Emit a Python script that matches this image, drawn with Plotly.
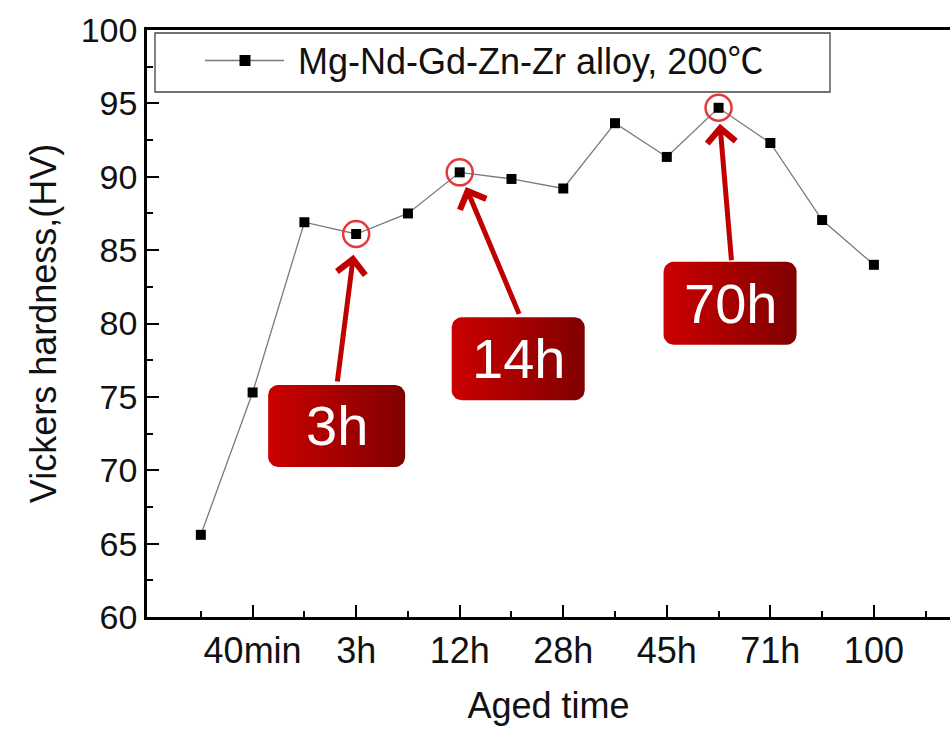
import numpy as np
import plotly.graph_objects as go

# ---------------- data ----------------
aged_idx = list(range(1, 15))
hardness = [65.6, 75.3, 86.9, 86.1, 87.5, 90.3, 89.85, 89.2, 93.65, 91.35, 94.7, 92.3, 87.05, 84.0]
tick_pos = [2, 4, 6, 8, 10, 12, 14]
tick_labels = ["40min", "3h", "12h", "28h", "45h", "71h", "100"]
minor_pos = [1, 3, 5, 7, 9, 11, 13, 15]
callout_idx = [4, 6, 11]
callout_text = ["3h", "14h", "70h"]
series_name = "Mg-Nd-Gd-Zn-Zr alloy, 200℃"

# ---------------- layout geometry ----------------
W, H = 950, 729
ML, MR, MT, MB = 147, 0, 30, 112
XR = [-0.04, 15.47]
YR = [60, 100]
PW = W - ML - MR
PH = H - MT - MB
FONT = "Liberation Sans, Arial, sans-serif"


def x2px(x):
    return ML + (x - XR[0]) / (XR[1] - XR[0]) * PW


def y2px(y):
    return MT + PH - (y - YR[0]) / (YR[1] - YR[0]) * PH


def px2x(p):
    return XR[0] + (p - ML) / PW * (XR[1] - XR[0])


def px2y(p):
    return YR[0] + (MT + PH - p) / PH * (YR[1] - YR[0])


def px2paper_x(p):
    return (p - ML) / PW


def px2paper_y(p):
    return (MT + PH - p) / PH


# callout styling (pixel offsets relative to the highlighted point)
box_offsets = [(-19.5, 192), (58.5, 186.5), (11.5, 195.5)]
box_sizes = [(137, 82), (133, 83), (133, 83)]
arrow_tails = [(-19, 149), (60, 143), (13, 154)]
arrow_standoff = [21, 16, 16]
corner_r = 10

fig = go.Figure()

# main series
fig.add_trace(go.Scatter(
    x=aged_idx, y=hardness, mode="lines+markers", name=series_name,
    line=dict(color="#7a7a7a", width=1.3),
    marker=dict(symbol="square", size=10, color="black"),
    showlegend=False, hoverinfo="x+y",
))

# callout boxes (rounded, gradient)
annotations = []
for k, xi in enumerate(callout_idx):
    yv = hardness[aged_idx.index(xi)]
    cx = x2px(xi) + box_offsets[k][0]
    cy = y2px(yv) + box_offsets[k][1]
    w, h = box_sizes[k]
    x0, x1 = cx - w / 2, cx + w / 2
    y0, y1 = cy - h / 2, cy + h / 2
    pts = []
    corners = [(x1 - corner_r, y0 + corner_r, -90, 0),
               (x1 - corner_r, y1 - corner_r, 0, 90),
               (x0 + corner_r, y1 - corner_r, 90, 180),
               (x0 + corner_r, y0 + corner_r, 180, 270)]
    for (ccx, ccy, a0, a1) in corners:
        for a in np.linspace(np.radians(a0), np.radians(a1), 8):
            pts.append((ccx + corner_r * np.cos(a), ccy + corner_r * np.sin(a)))
    pts.append(pts[0])
    fig.add_trace(go.Scatter(
        x=[px2x(p[0]) for p in pts], y=[px2y(p[1]) for p in pts],
        mode="lines", fill="toself", line=dict(width=0, color="#a00000"),
        fillgradient=dict(type="horizontal",
                          colorscale=[[0, "#cc0000"], [1, "#800000"]]),
        hoverinfo="skip", showlegend=False,
    ))
    annotations.append(dict(
        x=xi, y=yv, xref="x", yref="y", text=callout_text[k],
        showarrow=False, xshift=box_offsets[k][0], yshift=-box_offsets[k][1],
        font=dict(family=FONT, size=56, color="white"),
    ))
    annotations.append(dict(
        x=xi, y=yv, xref="x", yref="y", text="", showarrow=True,
        ax=arrow_tails[k][0], ay=arrow_tails[k][1],
        arrowhead=4, arrowsize=1.1, arrowwidth=5, arrowcolor="#c00000",
        standoff=arrow_standoff[k],
    ))

# highlight circles
fig.add_trace(go.Scatter(
    x=callout_idx, y=[hardness[aged_idx.index(i)] for i in callout_idx],
    mode="markers",
    marker=dict(symbol="circle-open", size=26, color="#e23a3a",
                line=dict(width=2.5, color="#e23a3a")),
    hoverinfo="skip", showlegend=False,
))

# legend (drawn manually to match the original frame)
leg_x0, leg_x1, leg_y0, leg_y1 = 155, 830, 33, 92
leg_cy = (leg_y0 + leg_y1) / 2
shapes = [
    dict(type="rect", xref="paper", yref="paper",
         x0=px2paper_x(leg_x0), x1=px2paper_x(leg_x1),
         y0=px2paper_y(leg_y1), y1=px2paper_y(leg_y0),
         line=dict(color="#444444", width=1.3), fillcolor="white", layer="below"),
    dict(type="line", xref="paper", yref="paper",
         x0=px2paper_x(205), x1=px2paper_x(284),
         y0=px2paper_y(leg_cy - 2), y1=px2paper_y(leg_cy - 2),
         line=dict(color="#7a7a7a", width=1.3)),
    dict(type="rect", xref="paper", yref="paper",
         x0=px2paper_x(239.5), x1=px2paper_x(250.5),
         y0=px2paper_y(leg_cy + 3.5), y1=px2paper_y(leg_cy - 7.5),
         line=dict(width=0), fillcolor="black"),
]
legend_label = series_name.replace(
    "℃", '<span style="font-family:Noto Sans CJK SC">℃</span>')
annotations.append(dict(
    x=px2paper_x(296), y=px2paper_y(leg_cy - 4), xref="paper", yref="paper",
    xanchor="left", yanchor="middle", text=legend_label, showarrow=False,
    font=dict(family=FONT, size=36, color="#111111"),
))

fig.update_layout(
    width=W, height=H,
    margin=dict(l=ML, r=MR, t=MT, b=MB, pad=0),
    paper_bgcolor="white", plot_bgcolor="white",
    font=dict(family=FONT, color="#111111"),
    shapes=shapes, annotations=annotations,
    xaxis=dict(
        range=XR, tickmode="array", tickvals=tick_pos, ticktext=tick_labels,
        ticks="inside", ticklen=12, tickwidth=2, tickcolor="black",
        minor=dict(tickvals=minor_pos, ticks="inside", ticklen=6,
                   tickwidth=2, tickcolor="black"),
        showline=True, linecolor="black", linewidth=2.5, mirror=True,
        showgrid=False, zeroline=False,
        tickfont=dict(family=FONT, size=36, color="#111111"),
        title=dict(text="Aged time", font=dict(family=FONT, size=36), standoff=23),
    ),
    yaxis=dict(
        range=YR, tick0=60, dtick=5,
        ticks="inside", ticklen=12, tickwidth=2, tickcolor="black",
        minor=dict(dtick=2.5, ticks="inside", ticklen=6,
                   tickwidth=2, tickcolor="black"),
        showline=True, linecolor="black", linewidth=2.5,
        showgrid=False, zeroline=False,
        tickfont=dict(family=FONT, size=34, color="#111111"),
        title=dict(text="Vickers hardness,(HV)", font=dict(family=FONT, size=36),
                   standoff=14),
    ),
)

fig.write_html("out.html")
